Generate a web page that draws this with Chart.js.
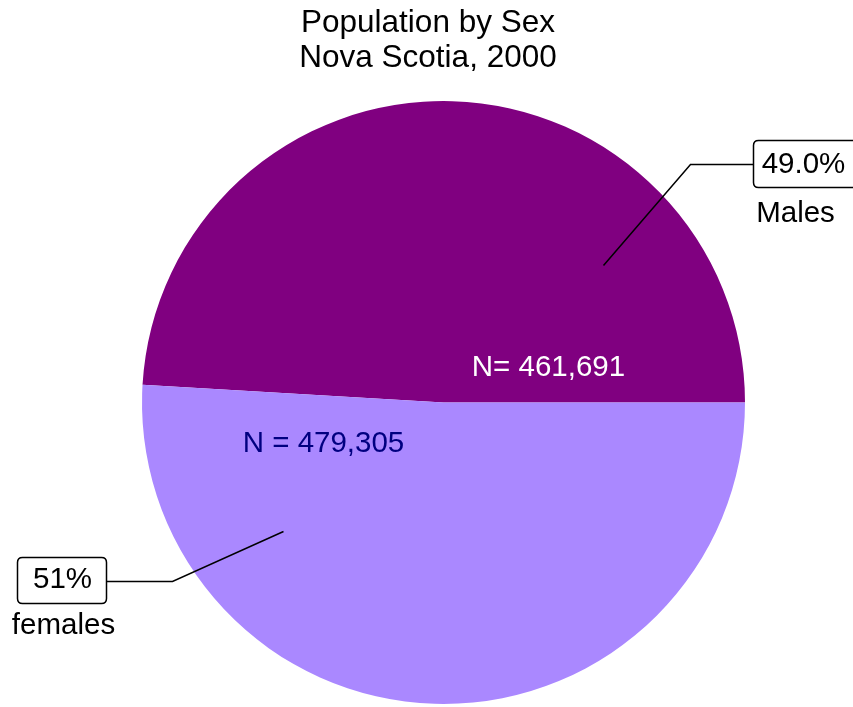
<!DOCTYPE html>
<html>
<head>
<meta charset="utf-8">
<script src="https://cdn.jsdelivr.net/npm/chart.js@4/dist/chart.umd.min.js"></script>
<style>
  body { margin: 0; background: #ffffff; }
  canvas { display: block; }
</style>
</head>
<body>
<canvas id="sexChart" width="853" height="707"></canvas>
<script>
// population by sex chart

var titleLines = ['Population by Sex', 'Nova Scotia, 2000'];
var sexLabels = ['Males', 'females'];
var populationCounts = [461691, 479305];
var shareLabels = ['49.0%', '51%'];
var countLabels = ['N= 461,691', 'N = 479,305'];

var sliceColors = ['#800080', '#AA88FF'];
var countColors = ['#FFFFFF', '#000080'];

var FONT = '"Liberation Sans", Arial, sans-serif';

// chart instances
var chartInstances = {};

function drawChart(chartType, data, options, plugins, id) {
    if (chartInstances[id]) {
        chartInstances[id].destroy();
    }
    var ctx = document.getElementById(id) ? document.getElementById(id).getContext('2d') : null;
    if (!ctx) return;

    chartInstances[id] = new Chart(ctx, {
        type: chartType,
        data: data,
        options: options,
        plugins: plugins || []
    });
}

// rounded box helper
function roundBox(ctx, x, y, w, h, r) {
    ctx.beginPath();
    ctx.moveTo(x + r, y);
    ctx.lineTo(x + w - r, y);
    ctx.quadraticCurveTo(x + w, y, x + w, y + r);
    ctx.lineTo(x + w, y + h - r);
    ctx.quadraticCurveTo(x + w, y + h, x + w - r, y + h);
    ctx.lineTo(x + r, y + h);
    ctx.quadraticCurveTo(x, y + h, x, y + h - r);
    ctx.lineTo(x, y + r);
    ctx.quadraticCurveTo(x, y, x + r, y);
    ctx.closePath();
}

// title, counts and the boxed callouts
var labelPlugin = {
    id: 'pieLabels',
    afterDraw: function (chart) {
        var ctx = chart.ctx;
        var arc = chart.getDatasetMeta(0).data[0];
        var cx = arc.x, cy = arc.y;

        ctx.save();
        ctx.textAlign = 'center';
        ctx.textBaseline = 'middle';

        // title
        ctx.fillStyle = '#000000';
        ctx.font = '31.5px ' + FONT;
        ctx.fillText(titleLines[0], 428, 23);
        ctx.fillText(titleLines[1], 428, 58);

        ctx.font = '29.5px ' + FONT;

        // N= labels
        ctx.fillStyle = countColors[0];
        ctx.fillText(countLabels[0], cx + 105, cy - 35);
        ctx.fillStyle = countColors[1];
        ctx.fillText(countLabels[1], cx - 120, cy + 41);

        ctx.strokeStyle = '#000000';
        ctx.lineWidth = 1.5;

        // males callout
        ctx.beginPath();
        ctx.moveTo(cx + 160, cy - 137);
        ctx.lineTo(cx + 247, cy - 238);
        ctx.lineTo(cx + 310, cy - 238);
        ctx.stroke();
        roundBox(ctx, cx + 310, cy - 262, 110, 47, 5);
        ctx.fillStyle = '#FFFFFF';
        ctx.fill();
        ctx.stroke();
        ctx.fillStyle = '#000000';
        ctx.fillText(shareLabels[0], cx + 360, cy - 238);
        ctx.fillText(sexLabels[0], cx + 352, cy - 189);

        // females callout
        ctx.beginPath();
        ctx.moveTo(cx - 160, cy + 129);
        ctx.lineTo(cx - 271, cy + 179);
        ctx.lineTo(cx - 337, cy + 179);
        ctx.stroke();
        roundBox(ctx, cx - 426, cy + 155, 89, 46, 5);
        ctx.fillStyle = '#FFFFFF';
        ctx.fill();
        ctx.stroke();
        ctx.fillStyle = '#000000';
        ctx.fillText(shareLabels[1], cx - 381, cy + 177);
        ctx.fillText(sexLabels[1], cx - 380, cy + 223);

        ctx.restore();
    }
};

var total = populationCounts[0] + populationCounts[1];
var maleAngle = 360 * populationCounts[0] / total;

var data = {
    labels: sexLabels,
    datasets: [{
        data: populationCounts,
        backgroundColor: sliceColors,
        borderWidth: 0
    }]
};

var options = {
    responsive: false,
    animation: false,
    // males end at 3 o'clock, drawn clockwise from the left
    rotation: 90 - maleAngle,
    layout: {
        padding: { left: 142, right: 108, top: 101, bottom: 3 }
    },
    plugins: {
        legend: { display: false },
        title: { display: false },
        tooltip: { enabled: false }
    }
};

drawChart('pie', data, options, [labelPlugin], 'sexChart');
</script>
</body>
</html>
